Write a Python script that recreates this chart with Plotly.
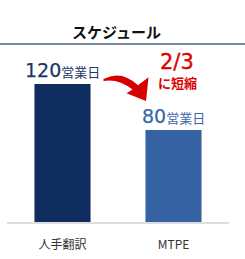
import plotly.graph_objects as go

categories = ["人手翻訳", "MTPE"]
values = [120, 80]
unit = "営業日"
bar_colors = ["#0e2d5e", "#3462a3"]
label_colors = ["#1b3764", "#3a68a9"]
title_text = "スケジュール"
note_main = "2/3"
note_sub = "に短縮"

W, H = 245, 259
L, R, T, B = 7, 16, 46, 27
PW, PH = W - L - R, H - T - B

def px(x):
    return (x - L) / PW

def py(y):
    return (H - B - y) / PH

FONT = "Noto Sans CJK JP"
NUMFONT = "DejaVu Sans"

fig = go.Figure(go.Bar(
    x=categories, y=values, marker_color=bar_colors, marker_line_width=0,
    hoverinfo="skip"))

for c, v, col in zip(categories, values, label_colors):
    fig.add_annotation(
        x=c, y=v, xref="x", yref="y", yanchor="bottom", showarrow=False, yshift=1,
        text=(f"<span style='font-family:{NUMFONT};stroke:{col};stroke-width:0.25px'>{v}</span>"
              f"<span style='font-size:13px'>{unit}</span>"),
        font=dict(family=FONT, size=19, color=col))

fig.add_annotation(
    x=px(177), y=py(63), xref="paper", yref="paper", xanchor="center", yanchor="middle",
    showarrow=False,
    text=f"<span style='stroke:#dd0000;stroke-width:0.35px'>{note_main}</span>",
    font=dict(family=NUMFONT, size=21, color="#dd0000"))
fig.add_annotation(
    x=px(177), y=py(84.5), xref="paper", yref="paper", xanchor="center", yanchor="middle",
    showarrow=False, text=note_sub,
    font=dict(family=FONT, size=13, color="#dd0000", weight="bold"))

# curved arrow
p = [(px(103.5), py(81)), (px(121), py(71)), (px(138), py(87.5)), (px(148.5), py(79)),
     (px(146), py(104)), (px(126.5), py(96)), (px(132.5), py(92)),
     (px(118), py(80)), (px(103.5), py(83))]
path = (f"M {p[0][0]},{p[0][1]} Q {p[1][0]},{p[1][1]} {p[2][0]},{p[2][1]} "
        f"L {p[3][0]},{p[3][1]} L {p[4][0]},{p[4][1]} L {p[5][0]},{p[5][1]} "
        f"L {p[6][0]},{p[6][1]} Q {p[7][0]},{p[7][1]} {p[8][0]},{p[8][1]} Z")
fig.add_shape(type="path", path=path, xref="paper", yref="paper",
              fillcolor="#d60000", line_width=0)

fig.add_shape(type="line", xref="paper", yref="paper", x0=px(0), x1=px(W),
              y0=py(44), y1=py(44), line=dict(color="#7b8ca4", width=2))

fig.update_layout(
    width=W, height=H, margin=dict(l=L, r=R, t=T, b=B),
    paper_bgcolor="white", plot_bgcolor="white",
    bargap=0.495, showlegend=False,
    title=dict(text=title_text, x=116.5 / W, xanchor="center", xref="container",
               y=1 - 33 / H, yanchor="middle", yref="container",
               font=dict(family=FONT, size=15, color="#111111", weight=600)),
    xaxis=dict(showline=True, linecolor="#dddddd", linewidth=1.5, ticks="",
               ticklabelstandoff=11,
               tickfont=dict(family=FONT, size=12, color="#333333"), showgrid=False),
    yaxis=dict(range=[0, 153], visible=False, showgrid=False),
)

fig.write_html("out.html")
